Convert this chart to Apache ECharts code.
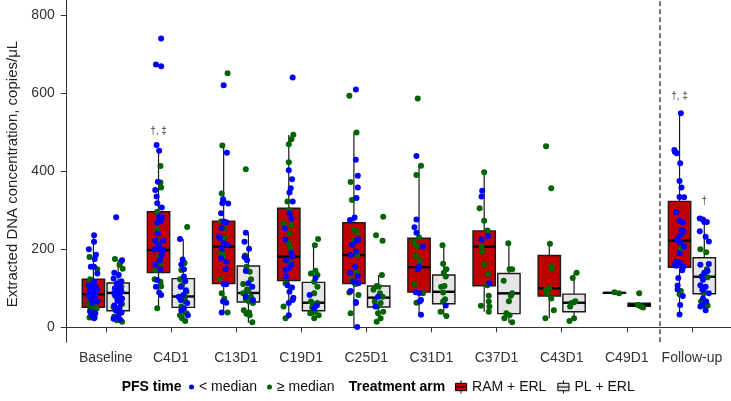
<!DOCTYPE html>
<html>
<head>
<meta charset="utf-8">
<script src="https://cdn.jsdelivr.net/npm/echarts@6/dist/echarts.min.js"></script>
<style>html,body{margin:0;padding:0;background:#fff}#c{width:731px;height:401px}</style>
</head>
<body>
<div id="c"></div>
<script>
// ---- data ----
const categories = ['Baseline','C4D1','C13D1','C19D1','C25D1','C31D1','C37D1','C43D1','C49D1','Follow-up'];
const yTicks = [0, 200, 400, 600, 800];

// box statistics (whisker low, Q1, median, Q3, whisker high)
const ramLow  = [23, 49, 37, 23, 0, 31.5, 40, 23, 87, 33];
const ramQ1   = [51, 140, 112, 120, 112, 90, 106.6, 80, 87.6, 153.7];
const ramMed  = [84.5, 198, 206.5, 181, 185, 154, 206.5, 100, 88.3, 222];
const ramQ3   = [123, 296, 272, 305, 268, 228, 247, 184, 88.9, 322.7];
const ramHigh = [236, 458, 466, 492.6, 498.5, 414, 397, 214, 89.5, 548];

const plLow  = [14, 14, 12, 23, 19, 29, 12, 16, 51, 48.6];
const plQ1   = [42.5, 51, 65, 42.5, 52, 60.5, 35, 40, 54, 86];
const plMed  = [88, 79, 88, 63, 76, 91, 87, 63, 57, 129.6];
const plQ3   = [113.5, 124.6, 157, 115, 106, 134, 138, 85, 61.5, 178];
const plHigh = [172, 226, 242, 211, 134, 211, 215, 140, 61.5, 279];

// observations: [jitter, value] per category
const ramBlue = [
  [[0.01,236],[0.01,219],[-0.07,200],[0.04,186],[0.02,175],[-0.04,155],[0.01,155],[0.06,138],[0.01,117],[-0.07,108],[-0.02,104],[0.03,104],[-0.05,96],[0.01,91],[0.06,96],[-0.02,87],[-0.07,83],[0.03,83],[-0.04,74],[0.01,70],[0.06,66],[-0.02,62],[-0.05,40],[0.03,36],[-0.03,31],[0.01,23]],
  [[0.04,740],[-0.04,673],[0.04,669],[-0.03,467],[0.01,452],[-0.01,373],[-0.05,352],[-0.03,335],[-0.02,318],[0.05,307],[0.01,283],[0.05,282],[0.03,271],[-0.02,269],[-0.05,222],[0.07,222],[0.0,211],[0.03,200],[-0.06,199],[0.07,198],[0.05,185],[-0.05,160],[0.03,149],[-0.02,121],[-0.04,104],[0.01,89],[0.04,83],[-0.01,240],[0.02,172]],
  [[0.0,620],[0.05,447],[-0.01,328],[0.0,322],[-0.02,318],[0.07,317],[-0.04,292],[0.0,271],[0.04,269],[-0.03,255],[-0.07,232],[-0.06,229],[0.0,215],[0.06,211],[-0.03,202],[-0.04,177],[0.04,168],[0.03,149],[0.0,111],[0.04,110],[-0.01,66],[0.04,63],[-0.03,38]],
  [[0.06,640],[0.0,402],[0.05,379],[0.03,356],[0.01,345],[0.06,322],[0.01,292],[0.04,279],[-0.06,253],[-0.05,225],[0.04,191],[0.05,181],[-0.04,172],[0.04,160],[0.0,151],[-0.04,130],[-0.02,108],[0.05,102],[0.01,91],[0.07,76],[0.06,70],[0.0,62],[0.0,31],[-0.05,147]],
  [[0.03,609],[0.03,429],[0.06,388],[0.06,358],[0.04,331],[0.01,281],[-0.06,275],[0.07,225],[0.04,222],[-0.03,211],[0.03,194],[-0.05,185],[0.02,155],[-0.06,140],[0.06,131],[-0.01,117],[0.07,113],[-0.05,93],[0.03,65],[0.03,62],[0.05,1]],
  [[-0.04,439],[-0.04,276],[-0.07,256],[-0.04,242],[0.06,207],[0.0,155],[-0.02,149],[-0.05,90],[0.0,88],[0.03,70],[0.01,66],[0.03,32]],
  [[-0.03,350],[-0.04,335],[-0.04,225],[0.06,234],[0.08,113]],
  [],
  [],
  [[0.02,548],[-0.08,454],[-0.07,449],[-0.04,446],[0.01,420],[0.0,375],[0.03,358],[0.0,334],[0.07,333],[-0.05,295],[0.0,273],[0.05,269],[0.03,249],[0.06,245],[0.01,236],[-0.04,224],[0.07,207],[0.0,190],[-0.05,168],[0.01,165],[0.06,155],[-0.07,161],[-0.02,126],[-0.03,107],[0.05,80],[0.01,57],[0.0,33],[-0.05,158],[0.04,146],[0.01,217],[-0.03,97]]
];
const ramGreen = [
  [[-0.06,180],[0.06,149],[-0.05,123],[-0.07,60],[0.01,53],[-0.05,44],[-0.02,27],[0.02,25],[0.05,48],[-0.06,25]],
  [[0.03,413],[0.03,371],[0.04,358],[-0.02,296],[-0.02,251],[-0.03,222],[0.01,181],[0.03,164],[-0.06,123],[0.03,117],[0.04,105],[-0.02,49],[-0.05,147]],
  [[0.06,651],[-0.02,466],[-0.03,343],[-0.04,271],[0.0,254],[0.01,229],[-0.02,194],[-0.01,181],[-0.06,123],[-0.03,87],[0.01,74],[0.06,38],[-0.04,190]],
  [[0.07,493],[0.04,482],[0.0,469],[0.0,423],[-0.02,322],[-0.08,266],[0.04,262],[0.01,241],[0.0,215],[0.01,300],[0.02,164],[-0.05,113],[-0.08,53],[-0.05,23],[0.03,202]],
  [[-0.07,593],[0.04,499],[-0.05,372],[-0.03,326],[0.0,249],[0.05,244],[0.0,222],[0.05,185],[0.04,140],[-0.03,121],[0.02,111],[-0.07,89],[0.07,83],[-0.05,36]],
  [[-0.02,586],[0.03,414],[-0.04,390],[0.0,230],[-0.08,218],[-0.05,183],[0.01,172],[-0.07,111],[0.06,87],[-0.04,63],[0.01,155],[-0.03,207]],
  [[0.0,397],[-0.07,305],[0.0,273],[0.05,248],[-0.04,207],[-0.03,194],[0.0,161],[0.06,136],[0.05,108],[-0.05,55],[0.07,81],[0.07,66],[0.07,40],[0.08,53]],
  [[-0.05,464],[0.03,356],[0.01,214],[0.03,155],[0.04,149],[-0.05,96],[0.0,100],[-0.03,87],[0.03,74],[0.07,44],[-0.06,23]],
  [[0.0,89.5],[0.07,87]],
  [[0.02,200],[0.03,210],[0.02,93],[0.0,85]]
];
const plBlue = [
  [[-0.03,282],[0.06,172],[-0.06,140],[0.01,134],[-0.07,125],[0.05,118],[-0.02,112],[0.03,104],[-0.05,100],[0.0,96],[0.05,92],[-0.06,88],[0.02,84],[-0.03,78],[0.06,74],[-0.01,68],[0.04,62],[-0.06,56],[0.02,50],[-0.04,44],[0.05,38],[-0.07,22],[0.03,20],[0.0,30]],
  [[-0.05,226],[-0.01,174],[-0.03,161],[0.01,149],[0.01,130],[0.03,118],[-0.04,104],[0.0,83],[-0.07,78],[-0.04,70],[0.06,62],[0.01,49],[0.07,31],[-0.03,44],[0.04,95]],
  [[-0.04,242],[-0.06,219],[0.01,201],[-0.06,180],[-0.02,172],[-0.04,144],[0.0,113],[0.06,104],[0.07,70],[-0.04,78]],
  [[0.03,126],[-0.06,83],[0.05,56],[0.01,49]],
  [[-0.01,78],[-0.05,53]],
  [[0.03,56]],
  [],
  [],
  [],
  [[-0.07,279],[-0.02,276],[0.0,270],[0.04,270],[-0.07,246],[0.02,232],[0.07,220],[-0.06,160],[0.07,162],[0.0,140],[-0.02,122],[-0.06,108],[0.02,104],[-0.03,96],[0.07,87],[-0.02,74],[0.03,66],[-0.06,53],[-0.01,97],[0.05,144],[-0.04,130],[0.02,44],[-0.03,57]]
];
const plGreen = [
  [[-0.05,175],[0.04,167],[0.02,160],[0.07,150],[-0.01,112],[0.05,104],[-0.05,82],[0.01,70],[0.06,60],[-0.07,52],[-0.01,45],[0.05,38],[-0.06,28],[0.06,14],[-0.02,18]],
  [[0.06,257],[0.02,165],[-0.03,147],[-0.05,123],[-0.02,108],[0.05,91],[0.02,74],[0.03,66],[-0.03,53],[0.05,36],[-0.02,23],[0.03,16],[-0.05,31]],
  [[-0.04,405],[-0.05,184],[-0.03,155],[0.02,142],[0.04,123],[-0.08,111],[-0.02,97],[0.0,93],[-0.08,87],[0.04,78],[-0.04,72],[0.01,66],[0.07,62],[-0.07,44],[0.01,38],[-0.03,35],[0.06,13],[0.02,31]],
  [[0.07,226],[0.02,210],[0.03,145],[-0.04,138],[0.06,134],[0.01,117],[0.06,104],[0.01,87],[-0.04,66],[0.06,62],[-0.02,51],[0.02,40],[-0.05,36],[0.08,31],[0.01,23],[-0.01,60]],
  [[0.07,283],[-0.04,236],[0.06,222],[0.05,134],[-0.03,106],[0.0,104],[-0.08,96],[0.02,87],[0.06,78],[-0.06,66],[0.03,62],[-0.02,53],[0.07,40],[-0.01,36],[0.03,23],[-0.03,14]],
  [[-0.02,210],[-0.01,163],[0.04,149],[0.0,140],[0.03,130],[-0.04,104],[0.01,106],[-0.01,89],[0.02,72],[-0.05,40],[0.04,29],[-0.01,66]],
  [[-0.01,215],[0.01,149],[0.05,149],[-0.08,119],[0.05,87],[0.03,81],[0.0,67],[-0.04,36],[0.01,31],[-0.07,23],[0.05,13]],
  [[0.04,140],[-0.02,126],[0.02,67],[-0.04,62],[-0.06,53],[0.0,64],[-0.07,16],[0.0,23]],
  [[0.0,87],[-0.02,57],[0.02,54],[0.06,51]],
  [[-0.06,200],[0.03,192],[0.04,149],[-0.04,130],[0.05,128],[-0.01,87],[-0.05,66],[0.02,62],[0.05,56]]
];

// significance marks: category index, arm, text
const annotCats = [1, 9, 9];
const annotArms = ['RAM', 'RAM', 'PL'];
const annotTexts = ['†, ‡', '†, ‡', '†'];

// ---- chart ----
const FONT = '"Liberation Sans", Arial, Helvetica, sans-serif';
const DODGE = 0.19, BOXW = 0.343;
const RED = '#C00000', GREY = '#E5E5E5', BLUE = '#0000FF', GREEN = '#006400';

function boxData(lo, q1, md, q3, hi, off) {
  return categories.map((c, i) => [i + 1 + off, lo[i], q1[i], md[i], q3[i], hi[i]]);
}
function ptsData(groups, off) {
  const out = [];
  groups.forEach((g, i) => g.forEach(p => out.push([i + 1 + off + p[0], p[1]])));
  return out;
}
function renderBox(params, api) {
  const x = api.value(0);
  const pLo = api.coord([x, api.value(1)]);
  const pQ1 = api.coord([x, api.value(2)]);
  const pMd = api.coord([x, api.value(3)]);
  const pQ3 = api.coord([x, api.value(4)]);
  const pHi = api.coord([x, api.value(5)]);
  const half = api.size([BOXW, 0])[0] / 2;
  const fill = api.visual('color');
  const ls = {stroke: '#1a1a1a', lineWidth: 1.2};
  return {type: 'group', children: [
    {type: 'line', shape: {x1: pLo[0], y1: pLo[1], x2: pQ1[0], y2: pQ1[1]}, style: ls},
    {type: 'line', shape: {x1: pQ3[0], y1: pQ3[1], x2: pHi[0], y2: pHi[1]}, style: ls},
    {type: 'rect', shape: {x: pQ1[0] - half, y: pQ3[1], width: 2 * half, height: Math.max(pQ1[1] - pQ3[1], 0.5)},
      style: {fill: fill, stroke: '#1a1a1a', lineWidth: 1.4}},
    {type: 'line', shape: {x1: pMd[0] - half, y1: pMd[1], x2: pMd[0] + half, y2: pMd[1]}, style: {stroke: '#000', lineWidth: 2.4}}
  ]};
}
const annotData = annotCats.map((c, k) => {
  const hi = annotArms[k] === 'RAM' ? ramHigh[c] : plHigh[c];
  return [c + 1 + (annotArms[k] === 'RAM' ? -DODGE : DODGE), hi];
});

const boxIcon = 'path://M0,3 L12,3 L12,11 L0,11 Z M0,7 L12,7 M6,0 L6,3 M6,11 L6,14';

const chart = echarts.init(document.getElementById('c'), null, {renderer: 'canvas'});
chart.setOption({
  animation: false,
  backgroundColor: '#fff',
  grid: {left: 66.7, right: 0, top: 0, bottom: 58.7, containLabel: false},
  xAxis: {
    type: 'value', min: 0.4, max: 10.6,
    splitLine: {show: false},
    axisLine: {show: true, lineStyle: {color: '#333', width: 1}},
    axisTick: {show: true, length: 5, customValues: categories.map((c, i) => i + 1), lineStyle: {color: '#333'}},
    axisLabel: {customValues: categories.map((c, i) => i + 1), margin: 9, fontSize: 14, color: '#333', fontFamily: FONT,
      formatter: v => categories[Math.round(v) - 1]}
  },
  yAxis: {
    type: 'value', min: -38.4, max: 838.4,
    splitLine: {show: false},
    axisLine: {show: true, lineStyle: {color: '#333', width: 1}},
    axisTick: {show: true, length: 6, customValues: yTicks, lineStyle: {color: '#333'}},
    axisLabel: {customValues: yTicks, margin: 12, fontSize: 14, color: '#333', fontFamily: FONT}
  },
  legend: [
    {data: ['< median', '≥ median'], left: 189, top: 380, icon: 'circle', itemWidth: 5, itemHeight: 5, itemGap: 10,
      padding: 0, selectedMode: false, textStyle: {fontSize: 14, color: '#111', fontFamily: FONT}},
    {data: [
        {name: 'RAM + ERL', icon: boxIcon, itemStyle: {color: RED, borderColor: '#000', borderWidth: 1}},
        {name: 'PL + ERL', icon: boxIcon, itemStyle: {color: GREY, borderColor: '#000', borderWidth: 1}}],
      left: 455, top: 380, itemWidth: 12, itemHeight: 13, itemGap: 11,
      padding: 0, selectedMode: false, textStyle: {fontSize: 14, color: '#111', fontFamily: FONT}}
  ],
  graphic: [
    {type: 'text', x: 12.5, y: 174, rotation: Math.PI / 2,
      style: {text: 'Extracted DNA concentration, copies/μL', fontSize: 15, fontFamily: FONT, fill: '#222', align: 'center', verticalAlign: 'middle'}},
    {type: 'text', x: 121.7, y: 387,
      style: {text: 'PFS time', fontSize: 14, fontWeight: 'bold', fontFamily: FONT, fill: '#000', verticalAlign: 'middle'}},
    {type: 'text', x: 348.7, y: 387,
      style: {text: 'Treatment arm', fontSize: 14, fontWeight: 'bold', fontFamily: FONT, fill: '#000', verticalAlign: 'middle'}}
  ],
  series: [
    {name: 'RAM + ERL', type: 'custom', renderItem: renderBox, data: boxData(ramLow, ramQ1, ramMed, ramQ3, ramHigh, -DODGE),
      itemStyle: {color: RED}, encode: {x: 0, y: [1, 2, 3, 4, 5]}, z: 2, silent: true},
    {name: 'PL + ERL', type: 'custom', renderItem: renderBox, data: boxData(plLow, plQ1, plMed, plQ3, plHigh, DODGE),
      itemStyle: {color: GREY}, encode: {x: 0, y: [1, 2, 3, 4, 5]}, z: 2, silent: true},
    {name: '≥ median', type: 'scatter', symbol: 'circle', symbolSize: 6, z: 3, silent: true,
      itemStyle: {color: GREEN, opacity: 1},
      data: ptsData(ramGreen, -DODGE).concat(ptsData(plGreen, DODGE))},
    {name: '< median', type: 'scatter', symbol: 'circle', symbolSize: 6, z: 3, silent: true,
      itemStyle: {color: BLUE, opacity: 1},
      data: ptsData(ramBlue, -DODGE).concat(ptsData(plBlue, DODGE)),
      markLine: {silent: true, symbol: 'none', label: {show: false},
        lineStyle: {color: '#555', type: [5, 3], width: 1.6},
        data: [{xAxis: 9.5}]}},
    {name: 'annotations', type: 'custom', z: 4, silent: true, data: annotData,
      renderItem: function (params, api) {
        const p = api.coord([api.value(0), api.value(1)]);
        return {type: 'text', x: p[0], y: p[1] - 17,
          style: {text: annotTexts[params.dataIndex], fontSize: 10, fontFamily: FONT, fill: '#444', align: 'center', verticalAlign: 'middle'}};
      }}
  ]
});
</script>
</body>
</html>
